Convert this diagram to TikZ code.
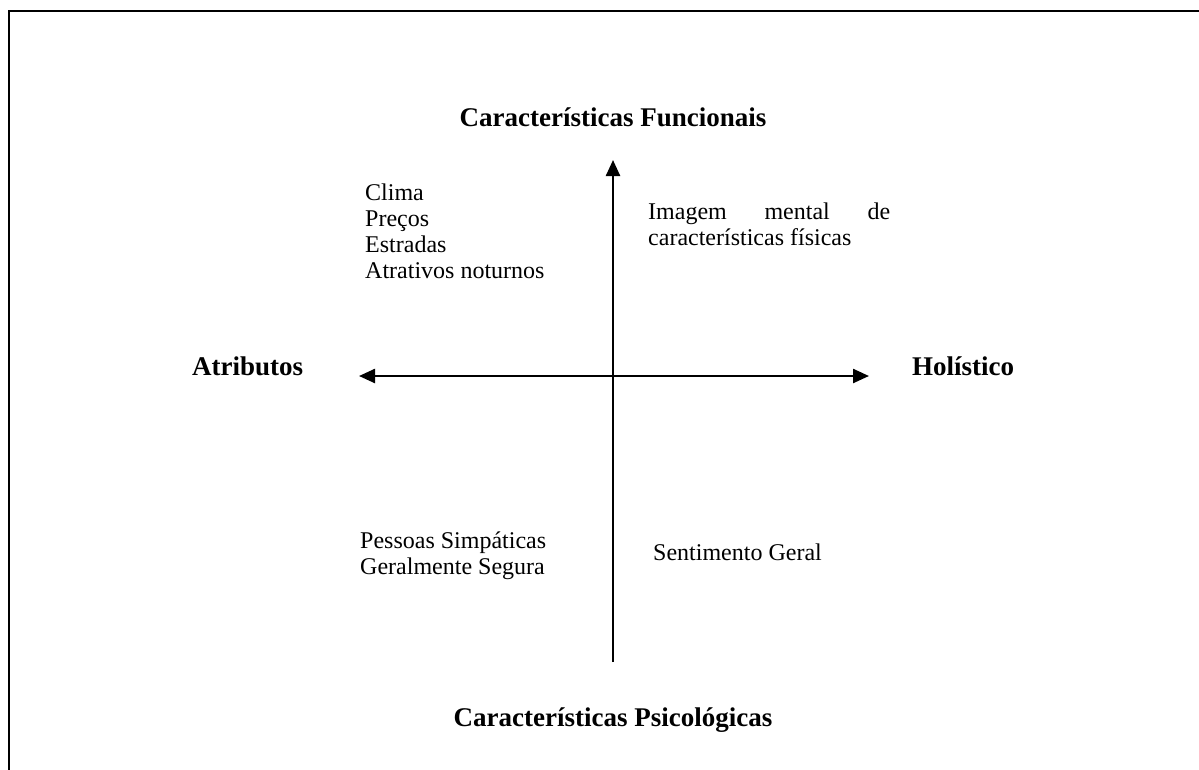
\documentclass[tikz,border=0pt]{standalone}
\usepackage{fontspec}
\setmainfont{Liberation Serif}
\usetikzlibrary{arrows.meta}
\begin{document}
\begin{tikzpicture}[x=1pt,y=-1pt,
  axis/.style={line width=2.4pt,-{Triangle[length=16pt,width=14pt]}},
  frame/.style={line width=2.2pt},
  title/.style={font=\fontsize{27}{32}\selectfont\bfseries,inner sep=0pt},
  item/.style={font=\fontsize{24}{26.7}\selectfont,inner sep=0pt,anchor=base west},
]
\useasboundingbox (0,0) rectangle (1199,769);
\clip (0,0) rectangle (1199,769);
\fill[white] (0,0) rectangle (1199,769);
\draw[frame] (9,780) -- (9,11) -- (1210,11);
% axes
\coordinate (c) at (613,376);
\coordinate (l) at (359,376);
\coordinate (r) at (869,376);
\coordinate (t) at (613,160);
\coordinate (b) at (613,662);
\draw[axis] (c) -- (l);
\draw[axis] (c) -- (r);
\draw[axis] (b) -- (t);
% titles
\node[title,anchor=base] (tf) at (613,126) {Características Funcionais};
\node[title,anchor=base] (tp) at (613,726) {Características Psicológicas};
\node[title,anchor=base west] (at) at (192,375) {Atributos};
\node[title,anchor=base west] (ho) at (912,375) {Holístico};
% items
\node[item] (q1a) at (365,200) {Clima};
\node[item] (q1b) at (365,226) {Preços};
\node[item] (q1c) at (365,252) {Estradas};
\node[item] (q1d) at (365,278) {Atrativos noturnos};
\node[item,text width=242pt,align=left] (q2a) at (648,219) {Imagem\hfill mental\hfill de};
\node[item] (q2b) at (648,245) {características físicas};
\node[item] (q3a) at (360,548) {Pessoas Simpáticas};
\node[item] (q3b) at (360,574) {Geralmente Segura};
\node[item] (q4) at (653,560) {Sentimento Geral};
\end{tikzpicture}
\end{document}
